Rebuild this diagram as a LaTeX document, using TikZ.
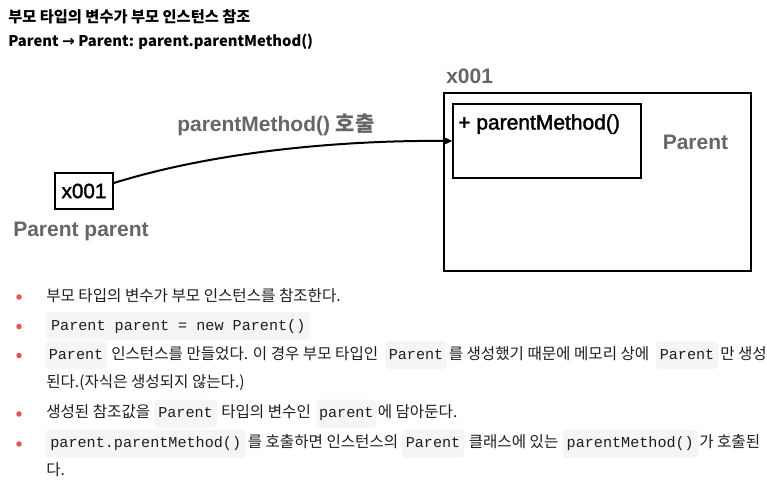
\documentclass[tikz,border=0pt]{standalone}
\usepackage{fontspec}
\setmainfont{Liberation Sans}
\setmonofont{Liberation Mono}
\newfontfamily\kr{Noto Sans CJK KR}
\newfontfamily\dv{DejaVu Sans}
\newfontfamily\medsans[FakeBold=1.6]{Liberation Sans}
\usetikzlibrary{arrows.meta}
\newdimen\pp \pp=0.75pt
\definecolor{diagray}{HTML}{666666}
\definecolor{bodytext}{HTML}{1E1E1E}
\definecolor{codebg}{HTML}{F4F5F7}
\definecolor{bulletred}{HTML}{E0535B}
\tikzset{
  box/.style={draw=black, line width=1.1pt, inner sep=0pt},
  graylbl/.style={font=\fontsize{15.75}{18}\selectfont\bfseries, text=diagray, inner sep=0pt, anchor=base west},
  blacklbl/.style={font=\medsans\fontsize{15.75}{18}\selectfont, text=black, inner sep=0pt},
  titletext/.style={font=\kr\bfseries\fontsize{11.45}{13}\selectfont, text=black, inner sep=0pt, anchor=base west},
  subtext/.style={font=\kr\bfseries\fontsize{11.1}{13}\selectfont, text=black, inner sep=0pt, anchor=base west},
  bodyseg/.style={font=\kr\fontsize{11.7}{13}\selectfont, text=bodytext, inner sep=0pt, text height=11\pp, text depth=3\pp, anchor=west},
  codeseg/.style={font=\ttfamily\fontsize{11.35}{13}\selectfont, text=bodytext, fill=codebg, rounded corners=2.5pt, inner xsep=0pt, inner ysep=7.5\pp, text height=10.5\pp, text depth=2.5\pp, anchor=west},
  bulletdot/.style={circle, fill=bulletred, inner sep=0pt, minimum size=5.5\pp},
  callarrow/.style={line width=1.5pt, -{Stealth[length=7pt,width=6.5pt,inset=2.5pt]}},
}
\begin{document}
\begin{tikzpicture}[x=0.75pt,y=-0.75pt]
\useasboundingbox (0,0) rectangle (767,492);
\fill[white] (0,0) rectangle (767,492);

% headings
\node[titletext] (title) at (8,22.5) {부모 타입의 변수가 부모 인스턴스 참조};
\node[subtext] (subtitle) at (8,46.5) {Parent {\dv\bfseries\fontsize{11.5}{13}\selectfont →} Parent: parent.parentMethod()};

% diagram
\node[box, minimum width=307\pp, minimum height=178\pp] (outer) at (597.5,182) {};
\node[box, minimum width=188\pp, minimum height=74\pp] (inner) at (547,141) {};
\node[blacklbl, anchor=base west] (method) at (458,129.5) {+ parentMethod()};
\node[graylbl] (clsname) at (662.5,149.3) {Parent};
\node[graylbl] (addr) at (446,83.3) {x001};

\node[box, minimum width=58\pp, minimum height=36\pp, font=\medsans\fontsize{15.5}{18}\selectfont] (xbox) at (84,191) {x001};
\node[graylbl] (varname) at (13,236.7) {Parent parent};

\node[graylbl] (calllbl) at (177,131) {parentMethod() {\kr\bfseries 호출}};

\draw[callarrow] (xbox.15) .. controls (220,150) and (350,140) .. (inner.west);

% bullet list
\node[bulletdot] (b1) at (19,297) {};
\node[bulletdot] (b2) at (19,326.5) {};
\node[bulletdot] (b3) at (19,355.5) {};
\node[bulletdot] (b4) at (19,414) {};
\node[bulletdot] (b5) at (19,444) {};

\node[bodyseg] (l1) at (46,297) {부모 타입의 변수가 부모 인스턴스를 참조한다.};

\node[codeseg, minimum width=264\pp] (l2c) at (46,326) {Parent parent = new Parent()};

\node[codeseg, minimum width=61.5\pp] (l3c1) at (45,355) {Parent};
\node[bodyseg] (l3t1) at (111,355) {인스턴스를 만들었다. 이 경우 부모 타입인};
\node[codeseg, minimum width=61.5\pp] (l3c2) at (385,355) {Parent};
\node[bodyseg] (l3t2) at (448.5,355) {를 생성했기 때문에 메모리 상에};
\node[codeseg, minimum width=61.5\pp] (l3c3) at (656,355) {Parent};
\node[bodyseg] (l3t3) at (720,355) {만 생성};
\node[bodyseg] (l3b) at (46,383.5) {된다.(자식은 생성되지 않는다.)};

\node[bodyseg] (l4t1) at (46,413.5) {생성된 참조값을};
\node[codeseg, minimum width=62.5\pp] (l4c1) at (154,413.5) {Parent};
\node[bodyseg] (l4t2) at (221,413.5) {타입의 변수인};
\node[codeseg, minimum width=60\pp] (l4c2) at (316,413.5) {parent};
\node[bodyseg] (l4t3) at (377.5,413.5) {에 담아둔다.};

\node[codeseg, minimum width=201\pp] (l5c1) at (45,443.5) {parent.parentMethod()};
\node[bodyseg] (l5t1) at (247.5,443.5) {를 호출하면 인스턴스의};
\node[codeseg, minimum width=62.5\pp] (l5c2) at (401.5,443.5) {Parent};
\node[bodyseg] (l5t2) at (468.5,443.5) {클래스에 있는};
\node[codeseg, minimum width=135\pp] (l5c3) at (562.5,443.5) {parentMethod()};
\node[bodyseg] (l5t3) at (699,443.5) {가 호출된};
\node[bodyseg] (l5b) at (46,471.5) {다.};
\end{tikzpicture}
\end{document}
